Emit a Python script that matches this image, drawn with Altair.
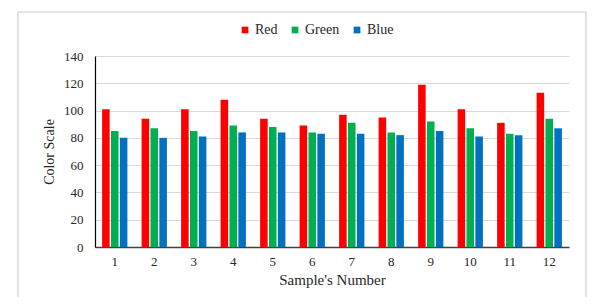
import altair as alt
import pandas as pd

samples = ["1", "2", "3", "4", "5", "6", "7", "8", "9", "10", "11", "12"]
red = [101, 94, 101, 108, 94, 89, 97, 95, 119, 101, 91, 113]
green = [85, 87, 85, 89, 88, 84, 91, 84, 92, 87, 83, 94]
blue = [80, 80, 81, 84, 84, 83, 83, 82, 85, 81, 82, 87]
series = ["Red", "Green", "Blue"]
colors = ["#FF0000", "#00B050", "#0070C0"]
yticks = [0, 20, 40, 60, 80, 100, 120, 140]

rows = []
for i, s in enumerate(samples):
    for name, vals in zip(series, [red, green, blue]):
        rows.append({"sample": s, "series": name, "value": vals[i]})
df = pd.DataFrame(rows)

FONT = "Liberation Serif"

frame = alt.Chart(alt.Data(values=[{"a": 1}])).mark_rect(
    filled=False, stroke="#D9D9D9", strokeWidth=1.5
).encode(
    x=alt.value(-77), x2=alt.value(491), y=alt.value(-44), y2=alt.value(247)
)

bars = alt.Chart(df).mark_bar().encode(
    x=alt.X("sample:N", sort=samples,
            scale=alt.Scale(paddingInner=0.36, paddingOuter=0.18),
            axis=alt.Axis(title="Sample's Number", labelAngle=0, ticks=False,
                          labelPadding=8, titlePadding=4,
                          domainColor="#404040", domainWidth=1.5)),
    xOffset=alt.XOffset("series:N", sort=series,
                        scale=alt.Scale(paddingInner=0.15, paddingOuter=0)),
    y=alt.Y("value:Q", scale=alt.Scale(domain=[0, 140], nice=False),
            axis=alt.Axis(title="Color Scale", values=yticks, ticks=False,
                          labelPadding=12, titlePadding=7,
                          domainColor="#000000", domainWidth=1.2,
                          grid=True, gridColor="#D9D9D9", gridWidth=1)),
    color=alt.Color("series:N", sort=series,
                    scale=alt.Scale(domain=series, range=colors),
                    legend=alt.Legend(title=None, orient="none", legendX=143, legendY=-33,
                                      direction="horizontal", symbolType="square",
                                      symbolSize=45, symbolStrokeWidth=0,
                                      labelFont=FONT, labelFontSize=14,
                                      labelColor="#262626", labelOffset=3,
                                      columnPadding=10)),
)

chart = alt.layer(frame, bars).properties(
    width=474, height=191,
    autosize=alt.AutoSizeParams(type="none"),
    padding={"left": 87, "top": 48, "right": 30, "bottom": 50},
).configure_view(stroke=None).configure_axis(
    labelFont=FONT, labelFontSize=13, labelColor="#262626",
    titleFont=FONT, titleFontSize=15, titleFontWeight="normal", titleColor="#262626",
).configure_axisY(titleFontSize=14)

chart.save("out.html", embed_options={"renderer": "svg", "actions": False})
